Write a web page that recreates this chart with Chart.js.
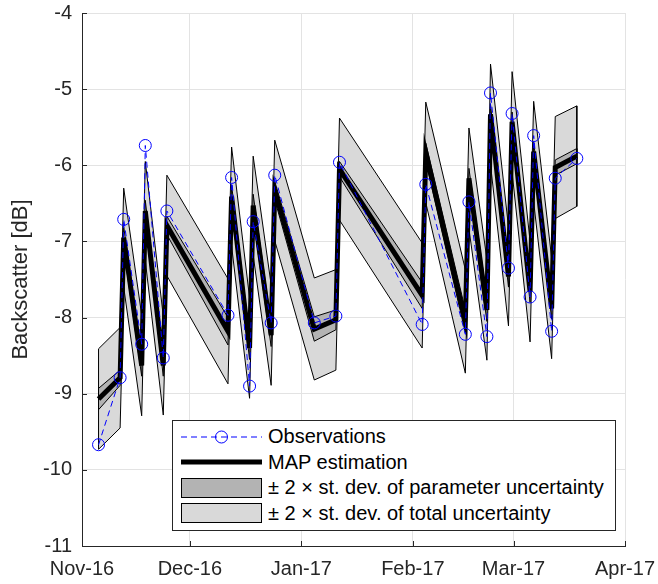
<!DOCTYPE html>
<html>
<head>
<meta charset="utf-8">
<title>Backscatter</title>
<script src="https://cdn.jsdelivr.net/npm/chart.js@4.4.1/dist/chart.umd.min.js"></script>
<style>
    html, body { margin: 0; padding: 0; background: #fff; }
    #wrap { position: relative; width: 658px; height: 584px; }
    #legend {
        position: absolute; left: 172px; top: 420px; width: 444px; height: 111px;
        box-sizing: border-box; border: 1px solid #262626; background: #fff;
        padding-top: 3px;
        font-family: "Liberation Sans", Arial, sans-serif; font-size: 20px; color: #000;
    }
    .row { display: flex; align-items: center; height: 25.5px; white-space: nowrap; }
    .row svg { flex: none; margin-left: 8px; margin-right: 6px; }
</style>
</head>
<body>
<div id="wrap">
    <canvas id="chart" width="658" height="584"></canvas>
    <div id="legend">
        <div class="row">
            <svg width="81" height="20"><line x1="0" y1="10" x2="81" y2="10" stroke="#0000ff" stroke-width="1" stroke-dasharray="6 4"/><circle cx="40.5" cy="10" r="6" fill="none" stroke="#0000ff" stroke-width="1"/></svg>
            <span>Observations</span>
        </div>
        <div class="row">
            <svg width="81" height="20"><line x1="0" y1="10" x2="81" y2="10" stroke="#000" stroke-width="5"/></svg>
            <span>MAP estimation</span>
        </div>
        <div class="row">
            <svg width="81" height="20"><rect x="0.5" y="0.5" width="80" height="19" fill="#b3b3b3" stroke="#000" stroke-width="1"/></svg>
            <span>± 2 × st. dev. of parameter uncertainty</span>
        </div>
        <div class="row">
            <svg width="81" height="20"><rect x="0.5" y="0.5" width="80" height="19" fill="#d9d9d9" stroke="#000" stroke-width="1"/></svg>
            <span>± 2 × st. dev. of total uncertainty</span>
        </div>
    </div>
</div>
<script>
// Acquisition times, in days counted from 1 Nov 2016
const obsDays = [4.6, 10.6, 11.6, 16.6, 17.6, 22.6, 23.6, 40.6, 41.6, 46.6, 47.6, 52.6, 53.6, 64.6,
    70.6, 71.6, 94.6, 95.6, 106.6, 107.6, 112.6, 113.6, 118.6, 119.6, 124.6, 125.6, 130.6, 131.6, 137.6];

// Observed backscatter [dB]
const observations = [-9.67, -8.79, -6.71, -8.35, -5.74, -8.53, -6.60, -7.97, -6.16, -8.90, -6.74, -8.07, -6.13, -8.07,
    -7.98, -5.96, -8.09, -6.25, -8.22, -6.48, -8.25, -5.05, -7.35, -5.32, -7.73, -5.61, -8.18, -6.17, -5.91];

// MAP estimate [dB]
const mapEstimate = [-9.07, -8.79, -6.95, -8.63, -6.60, -8.63, -6.79, -8.18, -6.41, -8.40, -6.53, -8.23, -6.33, -8.15,
    -8.03, -6.05, -7.71, -5.83, -8.05, -6.17, -7.90, -5.33, -7.46, -5.43, -7.66, -5.82, -7.88, -6.03, -5.88];

// 2 x st. dev. of parameter uncertainty [dB]
const paramUnc = [0.14, 0.10, 0.14, 0.14, 0.14, 0.14, 0.12, 0.18, 0.15, 0.15, 0.15, 0.15, 0.12, 0.16,
    0.13, 0.10, 0.17, 0.12, 0.15, 0.13, 0.15, 0.13, 0.14, 0.13, 0.14, 0.13, 0.14, 0.10, 0.10];

// 2 x st. dev. of total uncertainty [dB]
const totalUnc = [0.66, 0.66, 0.65, 0.66, 0.65, 0.65, 0.66, 0.69, 0.65, 0.66, 0.65, 0.66, 0.66, 0.67,
    0.66, 0.67, 0.69, 0.66, 0.68, 0.66, 0.66, 0.66, 0.65, 0.66, 0.66, 0.66, 0.66, 0.67, 0.66];

// Month ticks
const tickDays = [0, 30, 61, 92, 120, 151];
const tickLabels = ['Nov-16', 'Dec-16', 'Jan-17', 'Feb-17', 'Mar-17', 'Apr-17'];

const axisColor = '#262626';
const gridColor = '#e3e3e3';
const fontFamily = '"Liberation Sans", Arial, sans-serif';

function bandLower(unc) {
    return obsDays.map((d, i) => ({ x: d, y: mapEstimate[i] - unc[i] }));
}

// upper edge, with both ends closed down to the lower edge like a patch outline
function bandUpper(unc) {
    const pts = obsDays.map((d, i) => ({ x: d, y: mapEstimate[i] + unc[i] }));
    const n = obsDays.length - 1;
    pts.unshift({ x: obsDays[0], y: mapEstimate[0] - unc[0] });
    pts.push({ x: obsDays[n], y: mapEstimate[n] - unc[n] });
    return pts;
}

function bandDataset(data, fillColor, order, fill) {
    return {
        data: data,
        borderColor: '#000',
        borderWidth: 1,
        backgroundColor: fillColor,
        pointRadius: 0,
        tension: 0,
        fill: fill,
        order: order
    };
}

// MATLAB style ticks pointing into the axes
const inwardTicks = {
    id: 'inwardTicks',
    afterDatasetsDraw(chart) {
        const { ctx, chartArea, scales } = chart;
        ctx.save();
        ctx.strokeStyle = axisColor;
        ctx.lineWidth = 1;
        ctx.beginPath();
        scales.x.ticks.forEach(t => {
            const px = Math.round(scales.x.getPixelForValue(t.value)) + 0.5;
            ctx.moveTo(px, chartArea.bottom);
            ctx.lineTo(px, chartArea.bottom - 5);
        });
        scales.y.ticks.forEach(t => {
            const py = Math.round(scales.y.getPixelForValue(t.value)) + 0.5;
            ctx.moveTo(chartArea.left, py);
            ctx.lineTo(chartArea.left + 5, py);
        });
        ctx.stroke();
        ctx.restore();
    }
};

new Chart(document.getElementById('chart'), {
    type: 'line',
    data: {
        datasets: [
            bandDataset(bandUpper(totalUnc), '#d9d9d9', 6, '+1'),
            bandDataset(bandLower(totalUnc), '#d9d9d9', 5, false),
            bandDataset(bandUpper(paramUnc), '#b3b3b3', 4, '+1'),
            bandDataset(bandLower(paramUnc), '#b3b3b3', 3, false),
            {
                label: 'MAP estimation',
                data: obsDays.map((d, i) => ({ x: d, y: mapEstimate[i] })),
                borderColor: '#000',
                borderWidth: 5,
                pointRadius: 0,
                tension: 0,
                fill: false,
                order: 2
            },
            {
                label: 'Observations',
                data: obsDays.map((d, i) => ({ x: d, y: observations[i] })),
                borderColor: '#0000ff',
                borderWidth: 1,
                borderDash: [6, 4],
                pointRadius: 6,
                pointBorderWidth: 1,
                pointBorderColor: '#0000ff',
                pointBackgroundColor: 'rgba(0,0,0,0)',
                tension: 0,
                fill: false,
                order: 1
            }
        ]
    },
    options: {
        responsive: false,
        animation: false,
        events: [],
        layout: { padding: { top: 13, right: 33, left: 0, bottom: 0 } },
        plugins: {
            legend: { display: false },
            tooltip: { enabled: false }
        },
        scales: {
            x: {
                type: 'linear',
                min: 0,
                max: 151,
                afterBuildTicks: scale => {
                    scale.ticks = tickDays.map(v => ({ value: v }));
                },
                afterFit: scale => {
                    scale.height = 38;
                    scale.paddingLeft = 0;
                    scale.paddingRight = 0;
                },
                ticks: {
                    autoSkip: false,
                    maxRotation: 0,
                    padding: 11,
                    color: axisColor,
                    font: { family: fontFamily, size: 20 },
                    callback: (value, index) => tickLabels[index]
                },
                grid: { color: gridColor, drawTicks: false },
                border: { color: axisColor }
            },
            y: {
                min: -11,
                max: -4,
                afterFit: scale => {
                    scale.width = 82;
                    scale.paddingTop = 0;
                    scale.paddingBottom = 0;
                },
                ticks: {
                    stepSize: 1,
                    padding: 10,
                    color: axisColor,
                    font: { family: fontFamily, size: 20 }
                },
                grid: { color: gridColor, drawTicks: false },
                border: { color: axisColor },
                title: {
                    display: true,
                    text: 'Backscatter [dB]',
                    color: axisColor,
                    font: { family: fontFamily, size: 22 },
                    padding: { top: 8, bottom: 0 }
                }
            }
        }
    },
    plugins: [inwardTicks]
});
</script>
</body>
</html>
